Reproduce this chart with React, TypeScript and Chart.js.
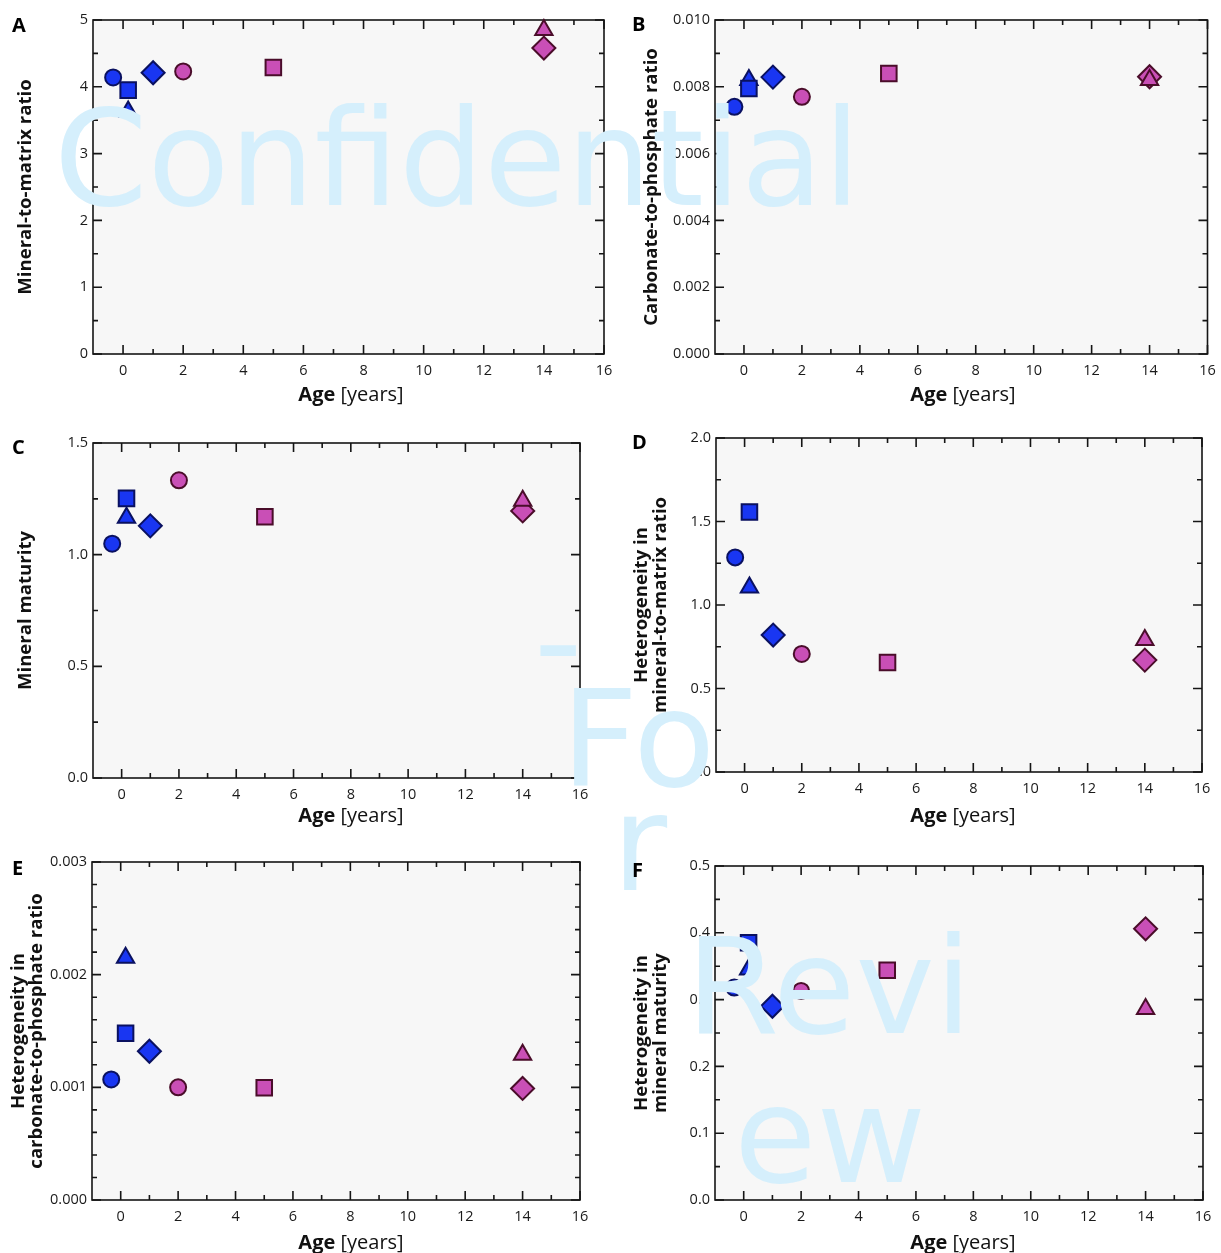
import React, { useEffect, useRef } from 'react';
import { Chart, registerables } from 'chart.js';

Chart.register(...registerables);

// ---------------- DATA ----------------
// Eight samples (ages in years); the same samples appear in every panel.
const ageYears = [-0.33, 0.17, 0.17, 1, 2, 5, 14, 14];
const sampleGroup = ['young', 'young', 'young', 'young', 'old', 'old', 'old', 'old'];

const mineralToMatrix = [4.14, 3.63, 3.95, 4.21, 4.23, 4.29, 4.85, 4.58];
const carbonateToPhosphate = [0.0074, 0.0082, 0.00795, 0.00829, 0.0077, 0.0084, 0.0082, 0.0083];
const mineralMaturity = [1.049, 1.165, 1.252, 1.129, 1.333, 1.17, 1.241, 1.196];
const hetMineralToMatrix = [1.285, 1.105, 1.557, 0.82, 0.707, 0.656, 0.79, 0.67];
const hetCarbonateToPhosphate = [0.00107, 0.00215, 0.00148, 0.00132, 0.001, 0.000997, 0.00129, 0.00099];
const hetMineralMaturity = [0.318, 0.345, 0.385, 0.29, 0.313, 0.344, 0.286, 0.406];

const xTickLabels = [0, 2, 4, 6, 8, 10, 12, 14, 16];
const yTicksA = [0, 1, 2, 3, 4, 5];
const yTicksB = [0, 0.002, 0.004, 0.006, 0.008, 0.01];
const yTicksC = [0, 0.5, 1.0, 1.5];
const yTicksD = [0, 0.5, 1.0, 1.5, 2.0];
const yTicksE = [0, 0.001, 0.002, 0.003];
const yTicksF = [0, 0.1, 0.2, 0.3, 0.4, 0.5];

// ---------------- STYLE ----------------
const FONT = '"Open Sans", "DejaVu Sans", sans-serif';
const WM_FONT = '"DejaVu Sans", sans-serif';
const markerShape = ['circle', 'triangle', 'rect', 'rectRot', 'circle', 'rect', 'triangle', 'rectRot'];
const markerRadius: Record<string, number> = { circle: 8, triangle: 10, rect: 11, rectRot: 11.5 };
const groupFill: Record<string, string> = { young: '#1936f2', old: '#c94fb6' };
const groupBorder: Record<string, string> = { young: '#0a1160', old: '#4a0d2a' };
// draw order bottom -> top
const zOrder = [0, 1, 2, 3, 4, 5, 7, 6];

type PanelCfg = {
  letter: string;
  values: number[];
  yMin: number;
  yMax: number;
  yTicks: number[];
  yMinorPerMajor: number;
  decimals: number;
  yTitle: string[];
  yTitleX: number[]; // page coords
  xTitleX: number; // page coords (center)
  xTitleY: number; // page coords (baseline)
  box: { left: number; top: number; width: number; height: number };
  area: { left: number; top: number; right: number; bottom: number }; // page coords
  letterPos: { left: number; top: number };
};

const panels: PanelCfg[] = [
  {
    letter: 'A', values: mineralToMatrix, yMin: 0, yMax: 5, yTicks: yTicksA, yMinorPerMajor: 2, decimals: 0,
    yTitle: ['Mineral-to-matrix ratio'], yTitleX: [25], xTitleX: 351, xTitleY: 401,
    box: { left: 0, top: 0, width: 625, height: 415 },
    area: { left: 93, top: 20, right: 604, bottom: 354 }, letterPos: { left: 12, top: 15 },
  },
  {
    letter: 'B', values: carbonateToPhosphate, yMin: 0, yMax: 0.01, yTicks: yTicksB, yMinorPerMajor: 2, decimals: 3,
    yTitle: ['Carbonate-to-phosphate ratio'], yTitleX: [651], xTitleX: 963, xTitleY: 401,
    box: { left: 610, top: 0, width: 611, height: 415 },
    area: { left: 715, top: 20, right: 1214, bottom: 354 }, letterPos: { left: 632, top: 14 },
  },
  {
    letter: 'C', values: mineralMaturity, yMin: 0, yMax: 1.5, yTicks: yTicksC, yMinorPerMajor: 2, decimals: 1,
    yTitle: ['Mineral maturity'], yTitleX: [25], xTitleX: 351, xTitleY: 822,
    box: { left: 0, top: 420, width: 625, height: 415 },
    area: { left: 93, top: 443, right: 580, bottom: 778 }, letterPos: { left: 12, top: 437 },
  },
  {
    letter: 'D', values: hetMineralToMatrix, yMin: 0, yMax: 2.0, yTicks: yTicksD, yMinorPerMajor: 2, decimals: 1,
    yTitle: ['Heterogeneity in', 'mineral-to-matrix ratio'], yTitleX: [641, 660], xTitleX: 963, xTitleY: 822,
    box: { left: 610, top: 420, width: 611, height: 415 },
    area: { left: 716, top: 438, right: 1202, bottom: 772 }, letterPos: { left: 632, top: 432 },
  },
  {
    letter: 'E', values: hetCarbonateToPhosphate, yMin: 0, yMax: 0.003, yTicks: yTicksE, yMinorPerMajor: 5, decimals: 3,
    yTitle: ['Heterogeneity in', 'carbonate-to-phosphate ratio'], yTitleX: [18, 36], xTitleX: 351, xTitleY: 1249,
    box: { left: 0, top: 840, width: 625, height: 413 },
    area: { left: 92, top: 862, right: 580, bottom: 1200 }, letterPos: { left: 12, top: 858 },
  },
  {
    letter: 'F', values: hetMineralMaturity, yMin: 0, yMax: 0.5, yTicks: yTicksF, yMinorPerMajor: 2, decimals: 1,
    yTitle: ['Heterogeneity in', 'mineral maturity'], yTitleX: [641, 660], xTitleX: 963, xTitleY: 1249,
    box: { left: 610, top: 840, width: 611, height: 413 },
    area: { left: 715, top: 866, right: 1203, bottom: 1200 }, letterPos: { left: 632, top: 860 },
  },
];

const framePlugin = {
  id: 'panelFrame',
  beforeDraw(chart: any) {
    const { ctx, chartArea: a } = chart;
    ctx.save();
    ctx.fillStyle = '#f7f7f7';
    ctx.fillRect(a.left, a.top, a.right - a.left, a.bottom - a.top);
    ctx.restore();
  },
  beforeDatasetsDraw(chart: any, _args: any, o: any) {
    const { ctx, chartArea: a, scales } = chart;
    const xs = scales.x;
    const ys = scales.y;
    ctx.save();
    ctx.strokeStyle = '#151515';
    ctx.lineWidth = 1.6;
    ctx.beginPath();
    const majLen = 9;
    const minLen = 5;
    const xt: number[] = o.xTicks;
    for (let i = 0; i < xt.length; i++) {
      const p = xs.getPixelForValue(xt[i]);
      ctx.moveTo(p, a.bottom); ctx.lineTo(p, a.bottom - majLen);
      ctx.moveTo(p, a.top); ctx.lineTo(p, a.top + majLen);
      if (i < xt.length - 1) {
        const m = xs.getPixelForValue((xt[i] + xt[i + 1]) / 2);
        ctx.moveTo(m, a.bottom); ctx.lineTo(m, a.bottom - minLen);
        ctx.moveTo(m, a.top); ctx.lineTo(m, a.top + minLen);
      }
    }
    const yt: number[] = o.yTicks;
    const n = o.yMinorPerMajor;
    for (let i = 0; i < yt.length; i++) {
      const p = ys.getPixelForValue(yt[i]);
      ctx.moveTo(a.left, p); ctx.lineTo(a.left + majLen, p);
      ctx.moveTo(a.right, p); ctx.lineTo(a.right - majLen, p);
      if (i < yt.length - 1) {
        for (let k = 1; k < n; k++) {
          const v = yt[i] + ((yt[i + 1] - yt[i]) * k) / n;
          const m = ys.getPixelForValue(v);
          ctx.moveTo(a.left, m); ctx.lineTo(a.left + minLen, m);
          ctx.moveTo(a.right, m); ctx.lineTo(a.right - minLen, m);
        }
      }
    }
    ctx.stroke();
    ctx.strokeRect(a.left, a.top, a.right - a.left, a.bottom - a.top);
    ctx.restore();
  },
  afterDraw(chart: any, _args: any, o: any) {
    const { ctx, chartArea: a } = chart;
    ctx.save();
    const bold = `bold 20px ${FONT}`;
    const reg = `20px ${FONT}`;
    ctx.fillStyle = '#111';
    ctx.textBaseline = 'alphabetic';
    ctx.font = bold;
    const w1 = ctx.measureText('Age ').width;
    ctx.font = reg;
    const w2 = ctx.measureText('[years]').width;
    const x0 = o.xTitleX - (w1 + w2) / 2;
    ctx.font = bold;
    ctx.textAlign = 'left';
    ctx.fillText('Age ', x0, o.xTitleY);
    ctx.font = reg;
    ctx.fillText('[years]', x0 + w1, o.xTitleY);
    ctx.font = `bold 18.6px ${FONT}`;
    ctx.textAlign = 'center';
    ctx.textBaseline = 'middle';
    const cy = (a.top + a.bottom) / 2;
    o.yTitle.forEach((line: string, i: number) => {
      ctx.save();
      ctx.translate(o.yTitleX[i], cy);
      ctx.rotate(-Math.PI / 2);
      ctx.fillText(line, 0, 1);
      ctx.restore();
    });
    ctx.restore();
  },
};

function Panel({ cfg }: { cfg: PanelCfg }) {
  const ref = useRef<HTMLCanvasElement>(null);
  useEffect(() => {
    const canvas = ref.current;
    if (!canvas) return;
    const b = cfg.box;
    const area = {
      left: cfg.area.left - b.left,
      top: cfg.area.top - b.top,
      right: cfg.area.right - b.left,
      bottom: cfg.area.bottom - b.top,
    };
    const datasets = zOrder
      .slice()
      .reverse()
      .map((i) => {
        const shape = markerShape[i];
        const g = sampleGroup[i];
        return {
          label: `sample ${i + 1}`,
          data: [{ x: ageYears[i], y: cfg.values[i] }],
          pointStyle: shape,
          pointRadius: markerRadius[shape],
          pointBackgroundColor: groupFill[g],
          pointBorderColor: groupBorder[g],
          pointBorderWidth: 2,
          showLine: false,
          clip: false as any,
        };
      });
    const chart = new Chart(canvas, {
      type: 'scatter',
      data: { datasets: datasets as any },
      plugins: [framePlugin as any],
      options: {
        animation: false,
        responsive: false,
        events: [],
        layout: {
          padding: { left: 0, top: area.top, right: b.width - area.right, bottom: 0 },
        },
        plugins: {
          legend: { display: false },
          tooltip: { enabled: false },
          panelFrame: {
            xTicks: xTickLabels,
            yTicks: cfg.yTicks,
            yMinorPerMajor: cfg.yMinorPerMajor,
            yTitle: cfg.yTitle,
            yTitleX: cfg.yTitleX.map((v) => v - b.left),
            xTitleX: cfg.xTitleX - b.left,
            xTitleY: cfg.xTitleY - b.top,
          },
        } as any,
        scales: {
          x: {
            type: 'linear',
            min: -1,
            max: 16,
            grid: { display: false, drawTicks: false },
            border: { display: false },
            ticks: {
              font: { family: FONT, size: 14.5 },
              color: '#1a1a1a',
              padding: 8,
              maxRotation: 0,
              callback: (v: any) => String(v),
            },
            afterBuildTicks: (s: any) => {
              s.ticks = xTickLabels.map((v) => ({ value: v }));
            },
            afterFit: (s: any) => {
              s.height = b.height - area.bottom;
              s.paddingLeft = 0;
              s.paddingRight = 0;
            },
          },
          y: {
            type: 'linear',
            min: cfg.yMin,
            max: cfg.yMax,
            grid: { display: false, drawTicks: false },
            border: { display: false },
            ticks: {
              font: { family: FONT, size: 14.5 },
              color: '#1a1a1a',
              padding: 5,
              callback: (v: any) => Number(v).toFixed(cfg.decimals),
            },
            afterBuildTicks: (s: any) => {
              s.ticks = cfg.yTicks.map((v) => ({ value: v }));
            },
            afterFit: (s: any) => {
              s.width = area.left;
              s.paddingTop = 0;
              s.paddingBottom = 0;
            },
          },
        },
      } as any,
    });
    return () => chart.destroy();
  }, [cfg]);
  return (
    <canvas
      ref={ref}
      width={cfg.box.width}
      height={cfg.box.height}
      style={{
        position: 'absolute',
        left: cfg.box.left,
        top: cfg.box.top,
        width: cfg.box.width,
        height: cfg.box.height,
      }}
    />
  );
}

const watermarkPieces = [
  { text: 'Confidential', left: 54, top: 92 },
  { text: '-', left: 534, top: 574 },
  { text: 'Fo', left: 561, top: 673 },
  { text: 'r', left: 612, top: 777 },
  { text: 'Revi', left: 686, top: 920 },
  { text: 'ew', left: 734, top: 1069 },
];

export default function App() {
  return (
    <div style={{ position: 'absolute', left: 0, top: 0, width: 1221, height: 1253, background: '#fff', overflow: 'hidden' }}>
      {panels.map((p) => (
        <Panel key={p.letter} cfg={p} />
      ))}
      {watermarkPieces.map((w, i) => (
        <div
          key={i}
          style={{
            position: 'absolute',
            left: w.left,
            top: w.top,
            fontFamily: WM_FONT,
            fontSize: 134,
            lineHeight: '134px',
            color: '#d5effc',
            whiteSpace: 'nowrap',
            pointerEvents: 'none',
          }}
        >
          {w.text}
        </div>
      ))}
      {panels.map((p) => (
        <div
          key={'l' + p.letter}
          style={{
            position: 'absolute',
            left: p.letterPos.left,
            top: p.letterPos.top,
            fontFamily: FONT,
            fontWeight: 'bold',
            fontSize: 20,
            lineHeight: '20px',
            color: '#000',
          }}
        >
          {p.letter}
        </div>
      ))}
    </div>
  );
}
